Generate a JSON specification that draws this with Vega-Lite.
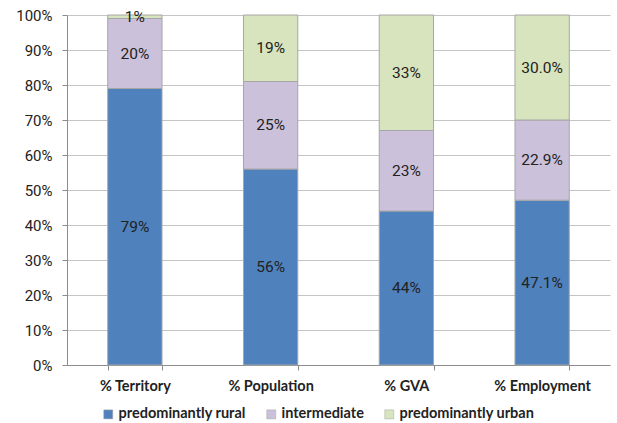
{
  "$schema": "https://vega.github.io/schema/vega-lite/v6.json",
  "width": 543,
  "height": 350,
  "autosize": "none",
  "padding": {"left": 67, "top": 15, "right": 7, "bottom": 58},
  "background": "white",
  "config": {
    "view": {"stroke": null},
    "axisY": {
      "title": null,
      "values": [0, 10, 20, 30, 40, 50, 60, 70, 80, 90, 100],
      "labelExpr": "datum.value + '%'",
      "labelFont": "Roboto",
      "labelFontSize": 15,
      "labelColor": "#222222",
      "labelPadding": 10,
      "labelOverlap": false,
      "tickSize": 5,
      "tickColor": "#8c8c8c",
      "domainColor": "#8c8c8c",
      "gridColor": "#c4c4c4",
      "gridWidth": 1
    }
  },
  "data": {
    "values": [
      {"category": "% Territory", "series": "predominantly rural", "value": 79},
      {"category": "% Territory", "series": "intermediate", "value": 20},
      {"category": "% Territory", "series": "predominantly urban", "value": 1},
      {"category": "% Population", "series": "predominantly rural", "value": 56},
      {"category": "% Population", "series": "intermediate", "value": 25},
      {"category": "% Population", "series": "predominantly urban", "value": 19},
      {"category": "% GVA", "series": "predominantly rural", "value": 44},
      {"category": "% GVA", "series": "intermediate", "value": 23},
      {"category": "% GVA", "series": "predominantly urban", "value": 33},
      {"category": "% Employment", "series": "predominantly rural", "value": 47.1},
      {"category": "% Employment", "series": "intermediate", "value": 22.9},
      {"category": "% Employment", "series": "predominantly urban", "value": 30.0}
    ]
  },
  "transform": [
    {"calculate": "indexof(['predominantly rural','intermediate','predominantly urban'], datum.series)", "as": "ord"},
    {"stack": "value", "groupby": ["category"], "sort": [{"field": "ord", "order": "ascending"}], "as": ["y0", "y1"]},
    {"calculate": "(datum.y0 + datum.y1) / 2", "as": "ymid"},
    {"calculate": "datum.category === '% Employment' ? format(datum.value, '.1f') + '%' : format(datum.value, 'd') + '%'", "as": "label"}
  ],
  "encoding": {
    "x": {
      "field": "category",
      "type": "nominal",
      "sort": ["% Territory", "% Population", "% GVA", "% Employment"],
      "scale": {"paddingInner": 0.6, "paddingOuter": 0.3},
      "axis": {
        "title": null,
        "labelAngle": 0,
        "labelFont": "Lato",
        "labelFontWeight": "bold",
        "labelFontSize": 14.5,
        "labelColor": "#222222",
        "labelPadding": 9,
        "tickBand": "extent",
        "tickSize": 5,
        "tickColor": "#8c8c8c",
        "domainColor": "#8c8c8c",
        "grid": false
      }
    }
  },
  "layer": [
    {
      "mark": {"type": "bar", "stroke": "#a6a6a6", "strokeWidth": 1},
      "encoding": {
        "y": {
          "field": "y0",
          "type": "quantitative",
          "scale": {"domain": [0, 100], "nice": false}
        },
        "y2": {"field": "y1"},
        "color": {
          "field": "series",
          "type": "nominal",
          "scale": {
            "domain": ["predominantly rural", "intermediate", "predominantly urban"],
            "range": ["#4f81bd", "#ccc1da", "#d7e4bd"]
          },
          "legend": {
            "title": null,
            "orient": "none",
            "direction": "horizontal",
            "legendX": 34,
            "legendY": 392,
            "symbolType": "square",
            "symbolSize": 81,
            "symbolStrokeColor": "#a6a6a6",
            "symbolStrokeWidth": 0.5,
            "labelFont": "Lato",
            "labelFontWeight": "bold",
            "labelFontSize": 14.5,
            "labelColor": "#222222",
            "labelOffset": 3,
            "columnPadding": 18,
            "padding": 0
          }
        }
      }
    },
    {
      "mark": {"type": "text", "font": "Roboto", "fontSize": 15.5, "color": "#222222"},
      "encoding": {
        "y": {"field": "ymid", "type": "quantitative"},
        "text": {"field": "label"}
      }
    }
  ]
}
